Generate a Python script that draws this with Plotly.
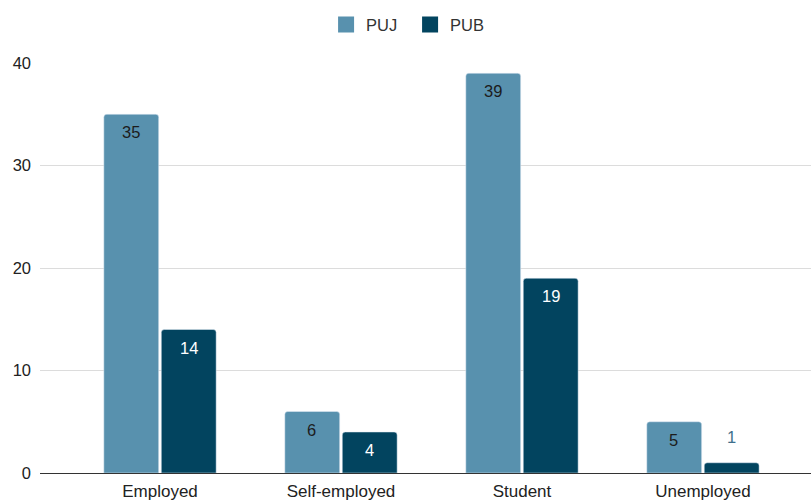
import plotly.graph_objects as go

categories = ["Employed", "Self-employed", "Student", "Unemployed"]
puj = [35, 6, 39, 5]
pub = [14, 4, 19, 1]
y_ticks = [0, 10, 20, 30, 40]

C_PUJ = "#5891ae"
C_PUB = "#02445f"
FONT = "Liberation Sans, Arial, sans-serif"

fig = go.Figure()
fig.add_trace(go.Bar(name="PUJ", x=categories, y=puj, marker_color=C_PUJ, showlegend=False))
fig.add_trace(go.Bar(name="PUB", x=categories, y=pub, marker_color=C_PUB, showlegend=False))
# legend entries with larger square swatches
for name, col in (("PUJ", C_PUJ), ("PUB", C_PUB)):
    fig.add_trace(go.Scatter(name=name, x=[None], y=[None], mode="markers",
                             marker=dict(symbol="square", size=17, color=col)))

# value labels
for i, c in enumerate(categories):
    for vals, shift, col in ((puj, -29, "#1c1c1c"), (pub, 29, "#ffffff")):
        v = vals[i]
        inside = v >= 3
        fig.add_annotation(
            x=c, y=v, xref="x", yref="y", xshift=shift,
            yshift=-18 if inside else 26,
            text=str(v), showarrow=False,
            font=dict(size=16.5, color=col if inside else "#3f6f8c", family=FONT),
            yanchor="middle",
        )

fig.update_layout(
    width=811, height=503,
    margin=dict(l=40, r=0, t=63, b=30),
    paper_bgcolor="white", plot_bgcolor="white",
    barmode="group", bargap=0.365, bargroupgap=0.045,
    barcornerradius=3,
    font=dict(family=FONT, size=16.5, color="#222222"),
    showlegend=True,
    legend=dict(orientation="h", x=0.480, xanchor="center", y=1.093, yanchor="middle",
                font=dict(size=16.5, color="#333333"), itemsizing="trace",
                entrywidth=39),
    xaxis=dict(range=[-0.663, 3.597], showgrid=False, showline=False, ticks="",
               tickfont=dict(size=17, color="#222222"), ticklabelstandoff=6),
    yaxis=dict(range=[0, 40], tickvals=y_ticks, showgrid=True, gridcolor="#dcdcdc",
               gridwidth=1, zeroline=True, zerolinecolor="#333333", zerolinewidth=1,
               ticks="", ticklabelstandoff=8, tickfont=dict(size=16.5, color="#222222")),
)

fig.write_html("out.html")
